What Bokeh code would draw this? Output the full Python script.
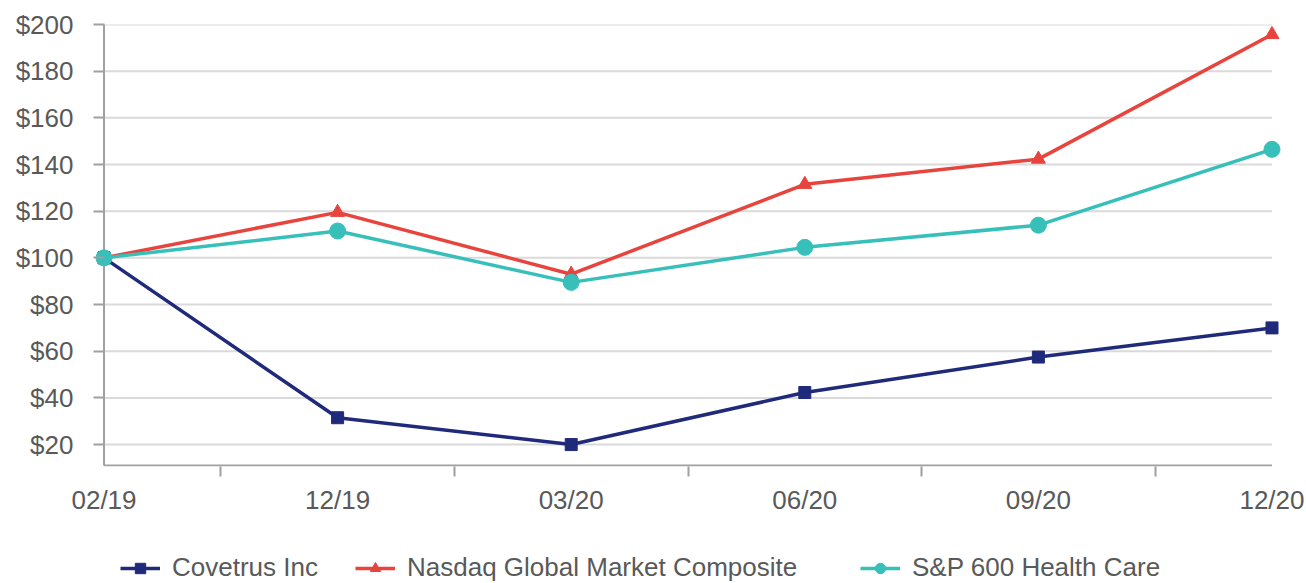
from bokeh.plotting import figure
from bokeh.models import FixedTicker, Range1d, Legend, LegendItem, NumeralTickFormatter
from bokeh.layouts import column
from bokeh.embed import file_html
from bokeh.resources import INLINE

periods = ["02/19", "12/19", "03/20", "06/20", "09/20", "12/20"]
covetrus = [100, 31.5, 20, 42.3, 57.5, 70]
nasdaq = [100, 119.5, 93, 131.5, 142.3, 195.7]
sp600hc = [100, 111.5, 89.5, 104.5, 114, 146.5]
y_ticks = [20, 40, 60, 80, 100, 120, 140, 160, 180, 200]
names = ["Covetrus Inc", "Nasdaq Global Market Composite", "S&P 600 Health Care"]

NAVY = "#202a7a"
RED = "#e8443e"
TEAL = "#37bfba"
GREY_TXT = "#595959"
AXIS = "#a0a0a0"
GRID = "#dadada"
FONT = "Liberation Sans"

x = list(range(len(periods)))
x_last = len(periods) - 1
y_lo, y_axis, y_hi = 10.6, 11, 200
pad = 0.045

p = figure(width=1306, height=525, output_backend="svg", toolbar_location=None,
           x_range=Range1d(-pad, x_last + pad), y_range=Range1d(y_lo, y_hi),
           min_border_left=93, min_border_right=24, min_border_top=24, min_border_bottom=59)
p.outline_line_color = None
p.background_fill_color = "white"
p.xgrid.grid_line_color = None
p.ygrid.grid_line_color = None

# gridlines and axis lines spanning only the category extent
p.segment(x0=[0] * len(y_ticks), y0=y_ticks, x1=[x_last] * len(y_ticks), y1=y_ticks,
          line_color=GRID, line_width=2)
p.segment(x0=[0], y0=[y_axis], x1=[0], y1=[y_hi], line_color=AXIS, line_width=2)
p.segment(x0=[0], y0=[y_axis], x1=[x_last], y1=[y_axis], line_color=AXIS, line_width=2)

# y axis
p.yaxis.ticker = FixedTicker(ticks=y_ticks)
p.yaxis.formatter = NumeralTickFormatter(format="$0")
p.yaxis.axis_line_color = None
p.yaxis.major_tick_line_color = AXIS
p.yaxis.major_tick_line_width = 2
p.yaxis.major_tick_out = 0
p.yaxis.major_tick_in = 11
p.yaxis.minor_tick_line_color = None
p.yaxis.major_label_text_font = FONT
p.yaxis.major_label_text_font_size = "26px"
p.yaxis.major_label_text_color = GREY_TXT
p.yaxis.major_label_standoff = 20

# x axis
p.xaxis.ticker = FixedTicker(ticks=x, minor_ticks=[0.5, 1.5, 2.5, 3.5, 4.5])
p.xaxis.major_label_overrides = {i: s for i, s in enumerate(periods)}
p.xaxis.axis_line_color = None
p.xaxis.major_tick_line_color = None
p.xaxis.major_tick_out = 0
p.xaxis.major_tick_in = 0
p.xaxis.minor_tick_line_color = AXIS
p.xaxis.minor_tick_line_width = 2
p.xaxis.minor_tick_out = 10
p.xaxis.minor_tick_in = 0
p.xaxis.major_label_text_font = FONT
p.xaxis.major_label_text_font_size = "26px"
p.xaxis.major_label_text_color = GREY_TXT
p.xaxis.major_label_standoff = 8

# series
p.line(x, covetrus, line_color=NAVY, line_width=3.5)
p.scatter(x, covetrus, marker="square", size=12, fill_color=NAVY, line_color=NAVY)
p.line(x, nasdaq, line_color=RED, line_width=3.5)
p.scatter(x, nasdaq, marker="triangle", size=14, fill_color=RED, line_color=RED)
p.line(x, sp600hc, line_color=TEAL, line_width=3.5)
p.scatter(x, sp600hc, marker="circle", size=16, fill_color=TEAL, line_color=TEAL)

# legend strip below the chart (its frame is aligned with the chart's frame)
lg = figure(width=1306, height=58, output_backend="svg", toolbar_location=None,
            x_range=Range1d(0, 1), y_range=Range1d(0, 1), min_border=0)
lg.axis.visible = False
lg.grid.visible = False
lg.outline_line_color = None

styles = [(NAVY, "square", 12), (RED, "triangle", 14), (TEAL, "circle", 16)]
xs = [27, 262, 767]
for name, (col, mk, sz), lx in zip(names, styles, xs):
    # off-range proxy glyphs: only their legend swatches are visible
    rl = lg.line(x=[-5, -4], y=[-5, -5], line_color=col, line_width=3.5)
    rs = lg.scatter(x=[-5], y=[-5], marker=mk, size=sz, fill_color=col, line_color=col)
    leg = Legend(items=[LegendItem(label=name, renderers=[rl, rs])], location=(lx, 0),
                 orientation="horizontal", margin=0, padding=0,
                 border_line_color=None, background_fill_alpha=0,
                 glyph_width=40, glyph_height=26, label_height=26,
                 label_standoff=12, label_text_font=FONT,
                 label_text_font_size="26px", label_text_color=GREY_TXT)
    lg.add_layout(leg, "center")

open("out.html", "w").write(file_html(column(p, lg, spacing=0), INLINE))
